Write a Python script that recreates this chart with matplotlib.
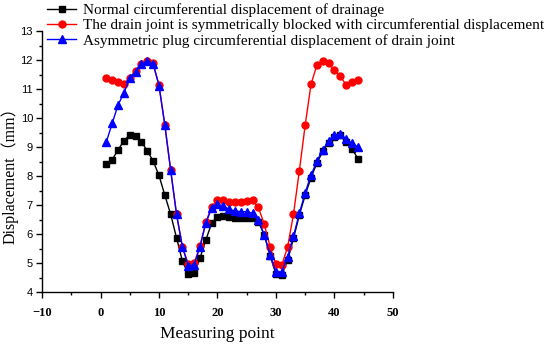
import numpy as np
import matplotlib
matplotlib.use('Agg')
from matplotlib import pyplot as plt
from matplotlib.ticker import MultipleLocator

# measuring points 1..44
points = list(range(1, 45))

normal = [8.40, 8.57, 8.90, 9.22, 9.42, 9.38, 9.18, 8.87, 8.52, 8.02,
          7.34, 6.68, 5.87, 5.07, 4.62, 4.65, 5.16, 5.79, 6.37, 6.60,
          6.62, 6.58, 6.57, 6.57, 6.57, 6.55, 6.42, 5.98, 5.25, 4.62,
          4.60, 5.10, 5.85, 6.66, 7.34, 7.95, 8.45, 8.85, 9.15, 9.35,
          9.40, 9.18, 8.95, 8.60]

symmetric = [11.40, 11.33, 11.25, 11.16, 11.40, 11.63, 11.86, 11.98, 11.89, 11.14,
             9.76, 8.20, 6.68, 5.56, 4.97, 4.99, 5.58, 6.40, 6.94, 7.17,
             7.17, 7.12, 7.10, 7.12, 7.15, 7.17, 6.92, 6.34, 5.56, 4.95,
             4.93, 5.56, 6.69, 8.18, 9.76, 11.17, 11.83, 11.98, 11.89, 11.66,
             11.45, 11.14, 11.25, 11.33]

asymmetric = [9.18, 9.82, 10.45, 10.87, 11.38, 11.60, 11.85, 11.97, 11.87, 11.12,
              9.76, 8.20, 6.68, 5.56, 4.91, 4.93, 5.56, 6.37, 6.89, 7.03,
              6.97, 6.85, 6.80, 6.77, 6.77, 6.72, 6.48, 5.97, 5.28, 4.70,
              4.70, 5.22, 5.93, 6.71, 7.43, 8.03, 8.52, 8.90, 9.22, 9.41,
              9.45, 9.28, 9.13, 9.01]

labels = ['Normal circumferential displacement of drainage',
          'The drain joint is symmetrically blocked with circumferential displacement',
          'Asymmetric plug circumferential displacement of drain joint']

serif = ['Liberation Serif', 'DejaVu Serif']

fig = plt.figure(figsize=(5.5, 3.46), dpi=100)
ax = fig.add_axes([0.0764, 0.156, 0.638, 0.754])

ax.plot(points, normal, color='black', marker='s', markersize=5, lw=1, label=labels[0])
ax.plot(points, symmetric, color='red', marker='o', markersize=5, lw=1, label=labels[1])
ax.plot(points, asymmetric, color='blue', marker='^', markersize=6, lw=1, label=labels[2])

ax.set_xlim(-10, 50)
ax.set_ylim(4, 13)
ax.xaxis.set_major_locator(MultipleLocator(10))
ax.xaxis.set_minor_locator(MultipleLocator(5))
ax.yaxis.set_major_locator(MultipleLocator(1))
ax.yaxis.set_minor_locator(MultipleLocator(0.5))

for s in ['top', 'right']:
    ax.spines[s].set_visible(False)
ax.spines['left'].set_linewidth(1)
ax.spines['bottom'].set_linewidth(1)

ax.tick_params(which='major', direction='out', length=4, width=1)
ax.tick_params(which='minor', direction='out', length=2.5, width=1)
ax.tick_params(axis='y', labelsize=8, pad=2.5)
ax.tick_params(axis='x', pad=7)
for t in ax.get_yticklabels():
    t.set_family(['Liberation Sans', 'DejaVu Sans'])
for t in ax.get_xticklabels():
    t.set_family(serif)
    t.set_fontweight('bold')
    t.set_fontsize(9)

ax.set_xlabel('Measuring point', family=serif, fontsize=12.5)
ax.xaxis.set_label_coords(0.5, -0.13)
ax.set_ylabel('Displacement（mm）', family=['Liberation Serif', 'Noto Sans CJK SC'], fontsize=11.5)
ax.yaxis.set_label_coords(-0.066, 0.46)

fig.legend(loc='upper left', bbox_to_anchor=(0.075, 1.008), frameon=False,
           prop={'family': serif, 'size': 11}, handlelength=1.9,
           labelspacing=0.1, handletextpad=0.45, borderaxespad=0)

fig.savefig('out.png', dpi=100)
